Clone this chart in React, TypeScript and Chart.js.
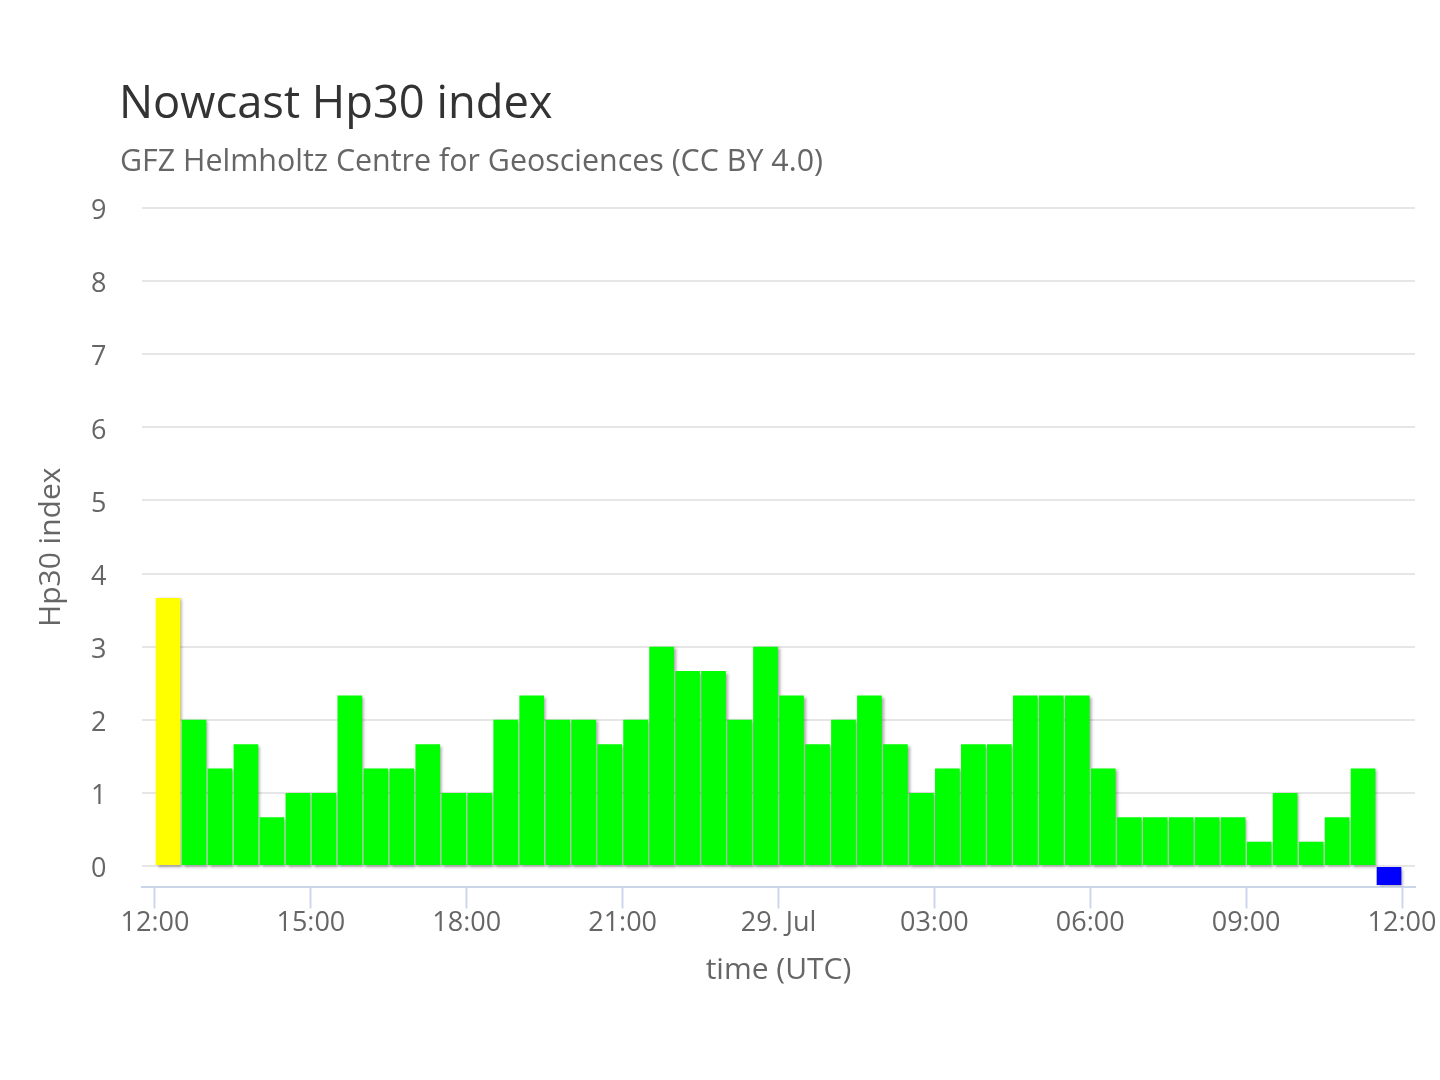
import { useEffect, useRef } from "react"
import { Chart, registerables } from "chart.js"

Chart.register(...registerables)

const chartTitle = "Nowcast Hp30 index"
const chartSubtitle = "GFZ Helmholtz Centre for Geosciences (CC BY 4.0)"

// half-hour slots, 28 Jul 12:00 UTC to 29 Jul 11:30 UTC
const slotLabels = [
  "12:00", "12:30", "13:00", "13:30", "14:00", "14:30", "15:00", "15:30", "16:00", "16:30", "17:00", "17:30",
  "18:00", "18:30", "19:00", "19:30", "20:00", "20:30", "21:00", "21:30", "22:00", "22:30", "23:00", "23:30",
  "00:00", "00:30", "01:00", "01:30", "02:00", "02:30", "03:00", "03:30", "04:00", "04:30", "05:00", "05:30",
  "06:00", "06:30", "07:00", "07:30", "08:00", "08:30", "09:00", "09:30", "10:00", "10:30", "11:00", "11:30",
]

const hp30Values = [
  3.667, 2, 1.333, 1.667, 0.667, 1, 1, 2.333, 1.333, 1.333, 1.667, 1,
  1, 2, 2.333, 2, 2, 1.667, 2, 3, 2.667, 2.667, 2, 3,
  2.333, 1.667, 2, 2.333, 1.667, 1, 1.333, 1.667, 1.667, 2.333, 2.333, 2.333,
  1.333, 0.667, 0.667, 0.667, 0.667, 0.667, 0.333, 1, 0.333, 0.667, 1.333, -0.26,
]

const xTickHours = [0, 3, 6, 9, 12, 15, 18, 21, 24]
const xTickLabels = ["12:00", "15:00", "18:00", "21:00", "29. Jul", "03:00", "06:00", "09:00", "12:00"]
const yTickValues = [0, 1, 2, 3, 4, 5, 6, 7, 8, 9]

const FONT = "'Open Sans', sans-serif"

// hours since 12:00 on the first day
function slotOffset(label: string) {
  const [hh, mm] = label.split(":").map(Number)
  return (hh - 12 + 24) % 24 + mm / 60
}

const headerPlugin = {
  id: "header",
  afterDraw(chart: Chart) {
    const ctx = chart.ctx
    ctx.save()
    ctx.textAlign = "left"
    ctx.textBaseline = "alphabetic"
    ctx.fillStyle = "#333333"
    ctx.font = `45.3px ${FONT}`
    ctx.fillText(chartTitle, 119, 118)
    ctx.fillStyle = "#666666"
    ctx.font = `30.4px ${FONT}`
    ctx.fillText(chartSubtitle, 120, 171)
    ctx.restore()
  },
}

const barShadowPlugin = {
  id: "barShadow",
  beforeDatasetDraw(chart: Chart) {
    const ctx = chart.ctx
    ctx.save()
    ctx.shadowColor = "rgba(0, 0, 0, 0.35)"
    ctx.shadowBlur = 3
    ctx.shadowOffsetX = 2
    ctx.shadowOffsetY = 1.5
  },
  afterDatasetDraw(chart: Chart) {
    chart.ctx.restore()
  },
}

export default function App() {
  const chartRef = useRef<HTMLCanvasElement>(null)
  const chartInstance = useRef<Chart | null>(null)

  useEffect(() => {
    if (!chartRef.current) return
    if (chartInstance.current) chartInstance.current.destroy()

    const ctx = chartRef.current.getContext("2d")
    if (!ctx) return

    const last = hp30Values.length - 1
    const points = slotLabels.map((label, i) => ({
      x: slotOffset(label) + 0.25,
      y: hp30Values[i],
    }))
    const colors = hp30Values.map((_, i) =>
      i === 0 ? "#ffff00" : i === last ? "#0000ff" : "#00ff00"
    )

    chartInstance.current = new Chart(ctx, {
      type: "bar",
      data: {
        datasets: [
          {
            label: "Hp30",
            data: points,
            backgroundColor: colors,
            borderWidth: 0,
            barPercentage: 0.95,
            categoryPercentage: 1,
          },
        ],
      },
      options: {
        responsive: false,
        animation: false,
        layout: { padding: { top: 208, right: 25, bottom: 0, left: 0 } },
        plugins: {
          legend: { display: false },
          title: { display: false },
          tooltip: { enabled: false },
        },
        scales: {
          x: {
            type: "linear",
            min: -0.25,
            max: 24.25,
            offset: false,
            afterBuildTicks: (scale: any) => {
              scale.ticks = xTickHours.map((v) => ({ value: v }))
            },
            afterFit: (scale: any) => {
              scale.height = 193.5
              scale.paddingLeft = 0
              scale.paddingRight = 0
            },
            ticks: {
              autoSkip: false,
              maxRotation: 0,
              padding: 1,
              color: "#666666",
              font: { family: FONT, size: 27, lineHeight: 1 },
              callback: (value: any) => {
                const i = xTickHours.indexOf(Number(value))
                return i >= 0 ? xTickLabels[i] : ""
              },
            },
            grid: {
              offset: false,
              drawOnChartArea: false,
              drawTicks: true,
              tickLength: 22,
              tickColor: "#ccd6eb",
              tickWidth: 2,
            },
            border: { display: true, color: "#ccd6eb", width: 2 },
            title: {
              display: true,
              text: "time (UTC)",
              color: "#666666",
              font: { family: FONT, size: 30 },
              padding: { top: 0, bottom: 92 },
            },
          },
          y: {
            min: -0.28,
            max: 9,
            afterBuildTicks: (scale: any) => {
              scale.ticks = yTickValues.map((v) => ({ value: v }))
            },
            afterFit: (scale: any) => {
              scale.width = 142
              scale.paddingTop = 0
              scale.paddingBottom = 0
            },
            ticks: {
              padding: 35.5,
              labelOffset: 3.5,
              color: "#666666",
              font: { family: FONT, size: 27 },
            },
            grid: { color: "#e6e6e6", lineWidth: 2, drawTicks: false },
            border: { display: false },
            title: {
              display: true,
              text: "Hp30 index",
              color: "#666666",
              font: { family: FONT, size: 30 },
              padding: { top: 33.4, bottom: 0 },
            },
          },
        },
      },
      plugins: [barShadowPlugin, headerPlugin],
    })

    return () => {
      if (chartInstance.current) {
        chartInstance.current.destroy()
        chartInstance.current = null
      }
    }
  }, [])

  return (
    <div style={{ position: "absolute", left: 0, top: 0, width: 1440, height: 1080, background: "#ffffff" }}>
      <canvas ref={chartRef} width={1440} height={1080}></canvas>
    </div>
  )
}
